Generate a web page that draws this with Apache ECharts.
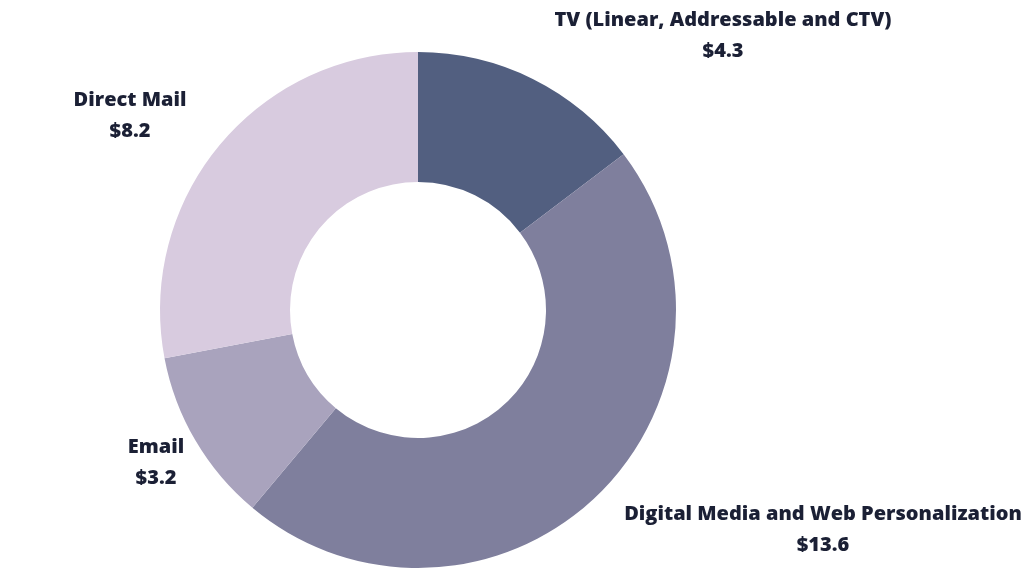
<!DOCTYPE html>
<html>
<head>
<meta charset="utf-8">
<script src="https://cdn.jsdelivr.net/npm/echarts@6/dist/echarts.min.js"></script>
<style>
  html, body { margin: 0; padding: 0; background: #fff; }
  #main { width: 1024px; height: 576px; }
</style>
</head>
<body>
<div id="main"></div>
<script>
// data
var channels = ['TV (Linear, Addressable and CTV)', 'Digital Media and Web Personalization', 'Email', 'Direct Mail'];
var spend = [4.3, 13.6, 3.2, 8.2];
var sliceColors = ['#525f80', '#7f7f9d', '#a9a3bd', '#d8cbdf'];

// where each label sits (centre of the two-line block)
var labelSpots = [[723, 36], [823, 530], [156, 463], [130, 116]];

var myChart = echarts.init(document.getElementById('main'));

var pieData = [];
for (var i = 0; i < channels.length; i++) {
    pieData.push({
        name: channels[i],
        value: spend[i],
        itemStyle: { color: sliceColors[i] }
    });
}

var option = {
    animation: false,
    series: [
        {
            type: 'pie',
            center: [418, 310],
            radius: [128, 258],
            startAngle: 90,
            clockwise: true,
            avoidLabelOverlap: false,
            itemStyle: { borderWidth: 0 },
            label: {
                show: true,
                position: 'outside',
                formatter: function (p) {
                    return p.name + '\n$' + p.value.toFixed(1);
                },
                fontFamily: 'Open Sans',
                fontWeight: 800,
                fontSize: 20,
                lineHeight: 31,
                color: '#1b2035',
                align: 'center'
            },
            labelLine: { show: false },
            labelLayout: function (params) {
                var s = labelSpots[params.dataIndex];
                return { x: s[0], y: s[1], align: 'center', verticalAlign: 'middle' };
            },
            data: pieData
        }
    ]
};

myChart.setOption(option);
</script>
</body>
</html>
